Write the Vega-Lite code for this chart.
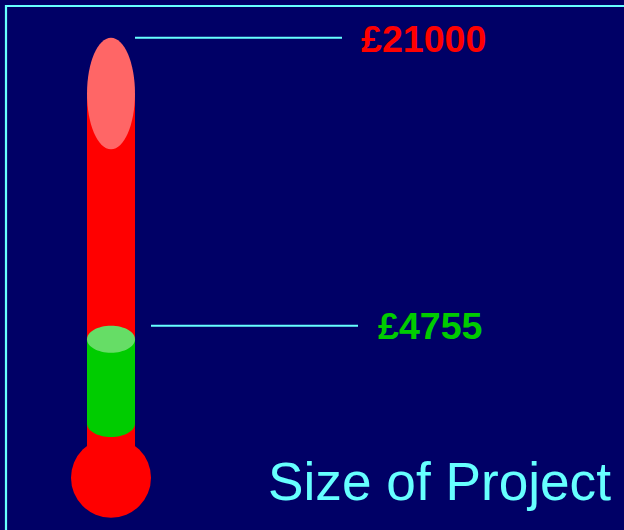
{
  "$schema": "https://vega.github.io/schema/vega-lite/v6.json",
  "width": 624,
  "height": 530,
  "autosize": "none",
  "padding": 0,
  "background": "#000066",
  "config": {"view": {"stroke": null}},
  "data": {"values": [
    {"kind": "target", "label": "£21000", "amount": 21000},
    {"kind": "raised", "label": "£4755", "amount": 4755}
  ]},
  "encoding": {
    "y": {"field": "amount", "type": "quantitative", "scale": {"domain": [-6769, 23126], "nice": false, "zero": false}, "axis": null}
  },
  "layer": [
    {
      "transform": [{"filter": "datum.kind === 'target'"}],
      "mark": {"type": "rect", "color": "#FF0000", "yOffset": 55.8, "y2Offset": 67.7},
      "encoding": {"x": {"value": 87}, "x2": {"value": 135}, "y2": {"datum": 0}}
    },
    {
      "transform": [{"filter": "datum.kind === 'target'"}],
      "mark": {"type": "point", "shape": "circle", "filled": true, "opacity": 1, "color": "#FF0000", "size": 6400, "yOffset": 67.7},
      "encoding": {"x": {"value": 111}, "y": {"datum": 0}}
    },
    {
      "transform": [{"filter": "datum.kind === 'target'"}],
      "mark": {"type": "point", "shape": "M0,-1 C0.2375,-1 0.43,-0.5523 0.43,0 C0.43,0.5523 0.2375,1 0,1 C-0.2375,1 -0.43,0.5523 -0.43,0 C-0.43,-0.5523 -0.2375,-1 0,-1 Z", "filled": true, "opacity": 1, "color": "#FF6666", "size": 12455, "yOffset": 55.8},
      "encoding": {"x": {"value": 111}}
    },
    {
      "transform": [{"filter": "datum.kind === 'raised'"}],
      "mark": {"type": "point", "shape": "M-1,0 C-1,-0.3107 -0.5523,-0.5625 0,-0.5625 C0.5523,-0.5625 1,-0.3107 1,0 C1,0.3107 0.5523,0.5625 0,0.5625 C-0.5523,0.5625 -1,0.3107 -1,0 Z", "filled": true, "opacity": 1, "color": "#00CC00", "size": 2304, "yOffset": 13.5},
      "encoding": {"x": {"value": 111}, "y": {"datum": 0}}
    },
    {
      "transform": [{"filter": "datum.kind === 'raised'"}],
      "mark": {"type": "rect", "color": "#00CC00", "yOffset": 13.5, "y2Offset": 13.5},
      "encoding": {"x": {"value": 87}, "x2": {"value": 135}, "y2": {"datum": 0}}
    },
    {
      "transform": [{"filter": "datum.kind === 'raised'"}],
      "mark": {"type": "point", "shape": "M-1,0 C-1,-0.3107 -0.5523,-0.5625 0,-0.5625 C0.5523,-0.5625 1,-0.3107 1,0 C1,0.3107 0.5523,0.5625 0,0.5625 C-0.5523,0.5625 -1,0.3107 -1,0 Z", "filled": true, "opacity": 1, "color": "#66DD66", "size": 2304, "yOffset": 13.5},
      "encoding": {"x": {"value": 111}}
    },
    {
      "transform": [{"filter": "datum.kind === 'target'"}],
      "mark": {"type": "rule", "color": "#66FFFF", "strokeWidth": 2},
      "encoding": {"x": {"value": 135}, "x2": {"value": 342}}
    },
    {
      "transform": [{"filter": "datum.kind === 'raised'"}],
      "mark": {"type": "rule", "color": "#66FFFF", "strokeWidth": 2},
      "encoding": {"x": {"value": 151}, "x2": {"value": 358}}
    },
    {
      "transform": [{"filter": "datum.kind === 'target'"}],
      "mark": {"type": "text", "align": "left", "baseline": "alphabetic", "dy": 14, "font": "Liberation Sans", "fontWeight": "bold", "fontSize": 37.6, "color": "#FF0000"},
      "encoding": {"x": {"value": 361}, "text": {"field": "label"}}
    },
    {
      "transform": [{"filter": "datum.kind === 'raised'"}],
      "mark": {"type": "text", "align": "left", "baseline": "alphabetic", "dy": 13, "font": "Liberation Sans", "fontWeight": "bold", "fontSize": 37.6, "color": "#00CC00"},
      "encoding": {"x": {"value": 378}, "text": {"field": "label"}}
    },
    {
      "data": {"values": [{"caption": "Size of Project"}]},
      "mark": {"type": "text", "align": "right", "baseline": "alphabetic", "font": "Liberation Sans", "fontSize": 53.2, "color": "#66FFFF"},
      "encoding": {"x": {"value": 611}, "y": {"value": 500}, "text": {"field": "caption"}}
    },
    {
      "data": {"values": [{"frame": "border"}]},
      "mark": {"type": "rect", "filled": false, "stroke": "#66FFFF", "strokeWidth": 2.2},
      "encoding": {"x": {"value": 6}, "x2": {"value": 700}, "y": {"value": 6}, "y2": {"value": 700}}
    }
  ]
}
